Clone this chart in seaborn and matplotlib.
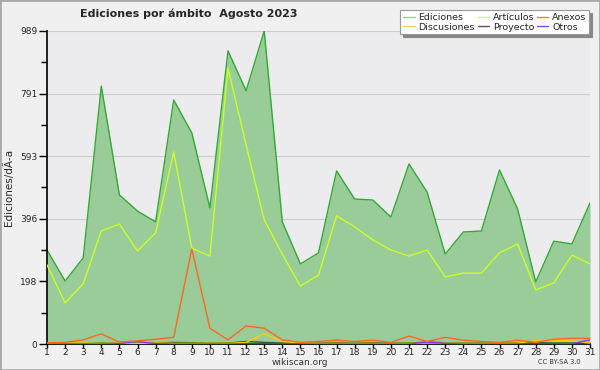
import matplotlib
matplotlib.use("Agg")
import matplotlib.pyplot as plt
import seaborn as sns
import pandas as pd
import numpy as np
from matplotlib.patches import Rectangle
from matplotlib.lines import Line2D

days = list(range(1, 32))
ediciones = [297, 199, 272, 815, 471, 420, 386, 771, 667, 430, 926, 800, 989, 386, 253, 288,
             547, 458, 455, 401, 569, 480, 284, 354, 357, 550, 427, 196, 325, 316, 446]
articulos = [250, 130, 190, 357, 379, 294, 351, 607, 303, 278, 872, 629, 392, 284, 183, 218,
             405, 370, 329, 297, 278, 297, 212, 224, 224, 288, 316, 171, 193, 281, 253]
anexos = [4, 5, 13, 32, 6, 10, 15, 21, 300, 50, 13, 57, 50, 13, 5, 8,
          12, 8, 12, 5, 25, 8, 21, 12, 8, 5, 12, 5, 15, 18, 18]
discusiones = [2, 3, 3, 2, 2, 2, 3, 2, 2, 3, 2, 5, 32, 8, 3, 2,
               2, 2, 2, 2, 2, 3, 3, 2, 2, 2, 3, 10, 10, 10, 3]
proyecto = [2, 2, 2, 3, 2, 3, 3, 5, 4, 4, 3, 8, 5, 3, 3, 3,
            4, 3, 4, 3, 3, 6, 4, 3, 3, 3, 4, 4, 3, 3, 3]
otros = [0, 0, 0, 0, 1, 8, 1, 0, 0, 0, 0, 0, 0, 0, 0, 0,
         0, 0, 0, 0, 0, 6, 2, 0, 0, 0, 0, 0, 0, 1, 13]

yticks = [0, 198, 396, 593, 791, 989]

sns.set_theme(style="white")
plt.rcParams['font.family'] = ['DejaVu Sans']

fig = plt.figure(figsize=(6, 3.7), dpi=100, facecolor="#f0f0f0")
ax = fig.add_axes([47/600, 1-344/370, 543/600, 313/370])
ax.set_facecolor("#ececee")

df = pd.DataFrame({"day": days, "Ediciones": ediciones, "Artículos": articulos,
                   "Anexos": anexos, "Discusiones": discusiones,
                   "Proyecto": proyecto, "Otros": otros})

for t in yticks[1:]:
    ax.axhline(t, color="#cccccc", lw=0.8, zorder=0)

ax.fill_between(df["day"], 0, df["Ediciones"], color="#99cc99", zorder=1, lw=0)
sns.lineplot(data=df, x="day", y="Ediciones", color="#33aa33", lw=1.0, ax=ax, zorder=2)
sns.lineplot(data=df, x="day", y="Artículos", color="#ccff22", lw=1.0, ax=ax, zorder=3)
sns.lineplot(data=df, x="day", y="Proyecto", color="#335533", lw=1.0, ax=ax, zorder=3)
sns.lineplot(data=df, x="day", y="Discusiones", color="#ffcc00", lw=1.0, ax=ax, zorder=4)
sns.lineplot(data=df, x="day", y="Otros", color="#8833ff", lw=1.0, ax=ax, zorder=4)
sns.lineplot(data=df, x="day", y="Anexos", color="#ff6622", lw=1.0, ax=ax, zorder=5)

ax.set_xlim(1, 31)
ax.set_ylim(0, 989)
ax.set_xticks(days)
ax.set_xticklabels([str(d) for d in days], fontsize=6.5)
ax.set_yticks(yticks)
ax.set_yticklabels([str(t) for t in yticks], fontsize=6.5)
ax.set_yticks([99, 297, 495, 692, 890], minor=True)
ax.tick_params(axis="x", which="both", direction="out", length=3, width=1, color="black",
               pad=0, bottom=True)
ax.tick_params(axis="y", which="both", direction="out", length=4, width=1, color="black",
               pad=1, left=True)
ax.tick_params(axis="y", which="major", length=6)
for side in ["top", "right"]:
    ax.spines[side].set_visible(False)
for side in ["left", "bottom"]:
    ax.spines[side].set_color("black")
    ax.spines[side].set_linewidth(1.2)
ax.set_xlabel("")
ax.set_ylabel("Ediciones/dÃ\u00ada", fontsize=7.5, labelpad=4)

fig.text(0.315, 0.962, "Ediciones por ámbito  Agosto 2023", fontsize=8, fontweight="bold",
         ha="center", va="center")
fig.text(0.5, 0.021, "wikiscan.org", fontsize=6.5, ha="center", va="center", color="#333333")
fig.text(0.968, 0.021, "CC BY-SA 3.0", fontsize=4.8, ha="right", va="center", color="#333333")

handles = [Line2D([], [], color=c, lw=1) for c in
           ["#99cc99", "#ffcc66", "#ccff66", "#555555", "#ff7744", "#8844ff"]]
labels = ["Ediciones", "Discusiones", "Artículos", "Proyecto", "Anexos", "Otros"]
leg = fig.legend(handles, labels, ncol=3, loc="upper right", bbox_to_anchor=(0.99, 0.985),
                 fontsize=6.8, frameon=True, fancybox=False, shadow={"color": "#888888", "alpha": 1},
                 handlelength=1.2, handletextpad=0.4, columnspacing=0.3,
                 labelspacing=0.05, borderpad=0.3)
leg.get_frame().set_edgecolor("#999999")
leg.get_frame().set_linewidth(0.8)

fig.patches.append(Rectangle((0, 0), 1, 1, transform=fig.transFigure, fill=False,
                             edgecolor="#aaaaaa", lw=2))

fig.savefig("out.png", dpi=100, facecolor=fig.get_facecolor())
